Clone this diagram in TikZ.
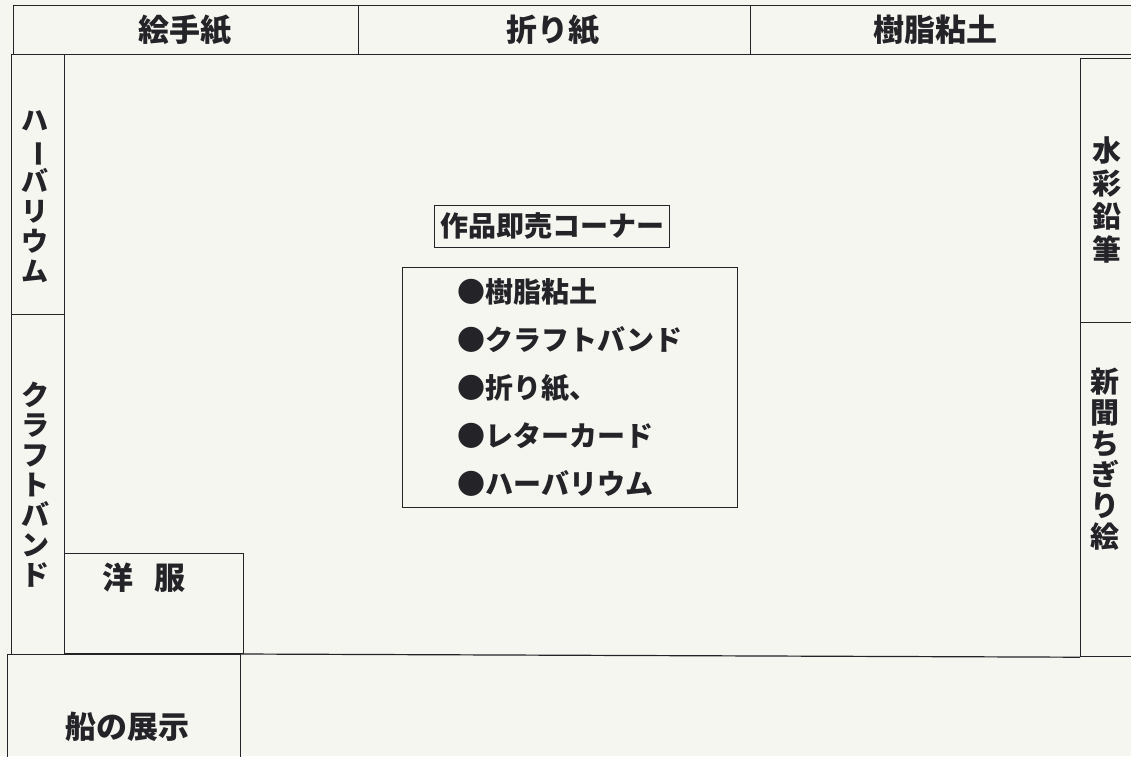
\documentclass[tikz,border=0pt]{standalone}
\usepackage{fontspec}
\newfontfamily\jp{Noto Sans CJK JP}
\usetikzlibrary{positioning}
\definecolor{paper}{RGB}{246,246,241}
\definecolor{ink}{RGB}{35,35,40}
\newcommand{\nobasu}{\rotatebox[origin=c]{-90}{ー}}

\begin{document}
\begin{tikzpicture}[x=1pt,y=-1pt,line width=1.2pt]
 \tikzstyle{booth}=[draw=ink,rectangle,anchor=north west,inner sep=0pt]
 \tikzstyle{lbl}=[text=ink,inner sep=0pt,font={\jp\bfseries\fontsize{31}{31}\selectfont}]
 \tikzstyle{tate}=[lbl,align=center]

 \fill[paper] (0,0) rectangle (1131,756);
 \useasboundingbox (0,0) rectangle (1131,756);
 \clip (0,0) rectangle (1131,756);

 % top row
 \node[booth,minimum width=345,minimum height=49] (etegami) at (13,5) {};
 \node[booth,minimum width=392,minimum height=49] (origami) at (358,5) {};
 \node[booth,minimum width=384,minimum height=49] (jushi) at (750,5) {};
 \node[lbl] (etegamiT) at (185,30) {絵手紙};
 \node[lbl] (origamiT) at (553,30) {折り紙};
 \node[lbl] (jushiT) at (935,30) {樹脂粘土};

 % left column
 \node[booth,minimum width=53,minimum height=260] (harb) at (11,54) {};
 \node[booth,minimum width=53,minimum height=340] (kraft) at (11,314) {};
 \node[tate,font={\jp\bfseries\fontsize{27}{30}\selectfont}] (harbT) at (35,197)
   {ハ\\\nobasu\\バ\\リ\\ウ\\ム};
 \node[tate,font={\jp\bfseries\fontsize{28}{30}\selectfont}] (kraftT) at (35,485)
   {ク\\ラ\\フ\\ト\\バ\\ン\\ド};

 % right column
 \node[booth,minimum width=54,minimum height=264] (suisai) at (1080,58) {};
 \node[booth,minimum width=54,minimum height=334] (shinbun) at (1080,322) {};
 \node[tate,font={\jp\bfseries\fontsize{29}{33}\selectfont}] (suisaiT) at (1107,200)
   {水\\彩\\鉛\\筆};
 \node[tate,font={\jp\bfseries\fontsize{29}{31}\selectfont}] (shinbunT) at (1105,459)
   {新\\聞\\ち\\ぎ\\り\\絵};

 % bottom
 \node[booth,minimum width=179,minimum height=100] (yofuku) at (64,553) {};
 \node[lbl] (yofukuT) at (144,578) {洋\hspace{21pt}服};
 \node[booth,minimum width=233,minimum height=130] (ship) at (7,654) {};
 \node[lbl] (shipT) at (127,727) {船の展示};
 \draw[ink] (ship.north east) -- (shinbun.south west);

 % sales corner
 \node[draw=ink,line width=1pt,minimum width=335,minimum height=240,inner sep=0pt,
   align=left,text=ink,font={\jp\bfseries\fontsize{28}{48}\selectfont}] (sokubai) at (570,387)
   {●樹脂粘土\\●クラフトバンド\\●折り紙、\\●レターカード\\●ハーバリウム};
 \node[draw=ink,line width=1pt,minimum width=235,minimum height=42,inner sep=0pt,
   text=ink,font={\jp\bfseries\fontsize{28}{28}\selectfont}] (corner) at (552,226)
   {作品即売コーナー};
\end{tikzpicture}
\end{document}
